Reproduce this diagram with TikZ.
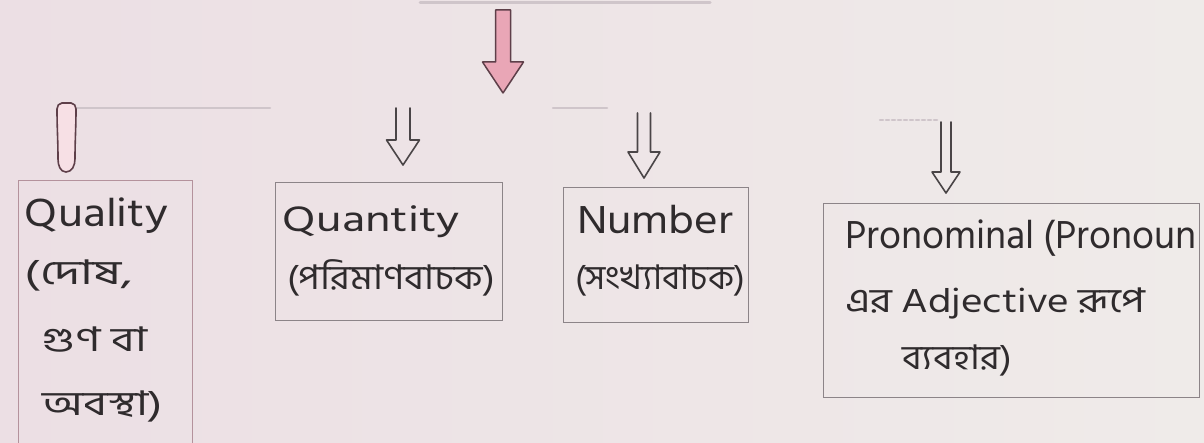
\documentclass[tikz,border=0pt]{standalone}
\usepackage{fontspec}
\usepackage{graphicx}
\newfontfamily\bn[Script=Bengali]{Hind Siliguri}
\newfontfamily\lat{Hind Siliguri}
\usetikzlibrary{calc}
\definecolor{bgL}{HTML}{ECDFE4}
\definecolor{bgR}{HTML}{EFEBE9}
\definecolor{ink}{HTML}{2F2B2D}
\definecolor{boxline}{HTML}{8C8488}
\definecolor{boxpink}{HTML}{B4929C}
\definecolor{pinkfill}{HTML}{E9A6B6}
\definecolor{pinkline}{HTML}{5E3F49}
\definecolor{faint}{HTML}{CFC5CA}
\definecolor{arrline}{HTML}{4A4547}
\newcommand\fitw[2]{\resizebox{#1pt}{\height}{#2}}
% style, top coordinate, tip coordinate, shaft half width, head half width, head length
\newcommand\openarrow[6]{%
  \draw[#1] let \p1=(#2), \p2=(#3) in
    (\x1-#4,\y1) -- (\x1-#4,\y2+#6) -- (\x1-#5,\y2+#6) -- (\x1,\y2)
    -- (\x1+#5,\y2+#6) -- (\x1+#4,\y2+#6) -- (\x1+#4,\y1);}
\newcommand\closedarrow[6]{%
  \draw[#1] let \p1=(#2), \p2=(#3) in
    (\x1-#4,\y1) -- (\x1-#4,\y2+#6) -- (\x1-#5,\y2+#6) -- (\x1,\y2)
    -- (\x1+#5,\y2+#6) -- (\x1+#4,\y2+#6) -- (\x1+#4,\y1) -- cycle;}
\begin{document}
\begin{tikzpicture}[x=1pt,y=-1pt,
  boxst/.style={draw=boxline, line width=1.4pt, inner sep=0pt},
  qboxst/.style={draw=boxpink, line width=1.4pt, inner sep=0pt},
  entxt/.style={inner sep=0pt, text=ink, font=\lat\fontsize{40}{40}\selectfont},
  bntxt/.style={inner sep=0pt, text=ink, font=\bn\fontsize{34}{34}\selectfont},
  pinkarr/.style={draw=pinkline, fill=pinkfill, line width=1.5pt, line join=round},
  hollowarr/.style={draw=arrline, line width=1.6pt, line join=round, line cap=round},
  qarr/.style={draw=pinkline, fill=pinkfill!35, line width=1.6pt},
  faintline/.style={draw=faint, line width=2.5pt, line cap=round}]
\useasboundingbox (0,0) rectangle (1204,443);
\shade[left color=bgL, right color=bgR] (0,0) rectangle (1204,443);
\clip (0,0) rectangle (1204,443);

% faint remains of the upper box and the branch line
\coordinate (topL) at (420,3);
\coordinate (topR) at (710,3);
\draw[faintline, line width=3pt] (topL) -- (topR);
\coordinate (brA) at (77,108);
\coordinate (brB) at (270,108);
\coordinate (brC) at (553,108);
\coordinate (brD) at (607,108);
\coordinate (brE) at (880,120);
\coordinate (brF) at (938,120);
\draw[faintline] (brA) -- (brB);
\draw[faintline] (brC) -- (brD);
\draw[faintline, dashed] (brE) -- (brF);

% boxes
\node[qboxst, minimum width=174pt, minimum height=290pt, anchor=north west] (qual) at (18,180) {};
\node[boxst, minimum width=227pt, minimum height=138pt, anchor=north west] (quant) at (275,182) {};
\node[boxst, minimum width=185pt, minimum height=135pt, anchor=north west] (num) at (563,187) {};
\node[boxst, minimum width=376pt, minimum height=194pt, anchor=north west] (pron) at (823,203) {};

% texts
\node[entxt] (qual1) at (96.5,216) {\fitw{143}{Quality}};
\node[bntxt] (qual2) at (79,275) {\fitw{108}{(দোষ,}};
\node[bntxt] (qual3) at (95,340) {\fitw{104}{গুণ বা}};
\node[bntxt] (qual4) at (103,406) {\fitw{120}{অবস্থা)}};

\node[entxt, font=\lat\fontsize{36}{36}\selectfont] (quant1) at (371.5,222) {\fitw{177}{Quantity}};
\node[bntxt] (quant2) at (391,278) {\fitw{208}{(পরিমাণবাচক)}};

\node[entxt] (num1) at (655,220) {\fitw{156}{Number}};
\node[bntxt] (num2) at (660,280) {\fitw{170}{(সংখ্যাবাচক)}};

\node[entxt] (pron1) at (1021,238) {\fitw{352}{Pronominal (Pronoun}};
\node[bntxt] (pron2) at (995,303) {\fitw{300}{এর Adjective রূপে}};
\node[bntxt] (pron3) at (957,360) {\fitw{110}{ব্যবহার)}};

% main pink arrow
\coordinate (pinkTop) at (503,10);
\coordinate (pinkTip) at (503,93);
\closedarrow{pinkarr}{pinkTop}{pinkTip}{7.5}{20.5}{31}

% Quality arrow (narrow capsule)
\coordinate (qaTop) at (66,103);
\begin{scope}[shift={(qaTop)}]
  \draw[qarr] (-9,6) to[out=-90,in=90] (-8,56) to[out=-90,in=180] (0,69)
     to[out=0,in=-90] (9,56) to[out=90,in=-90] (10,6)
     to[out=90,in=0] (5,0) -- (-4,0) to[out=180,in=90] cycle;
\end{scope}

% hollow double arrows
\coordinate (qnTop) at (403,108);
\coordinate (qnTip) at (403,165);
\openarrow{hollowarr}{qnTop}{qnTip}{7}{16.5}{25}
\coordinate (nmTop) at (644,113);
\coordinate (nmTip) at (644,178);
\openarrow{hollowarr}{nmTop}{nmTip}{6.5}{16}{26}
\coordinate (prTop) at (946,122);
\coordinate (prTip) at (946,193);
\openarrow{hollowarr}{prTop}{prTip}{5}{14}{21}
\end{tikzpicture}
\end{document}
